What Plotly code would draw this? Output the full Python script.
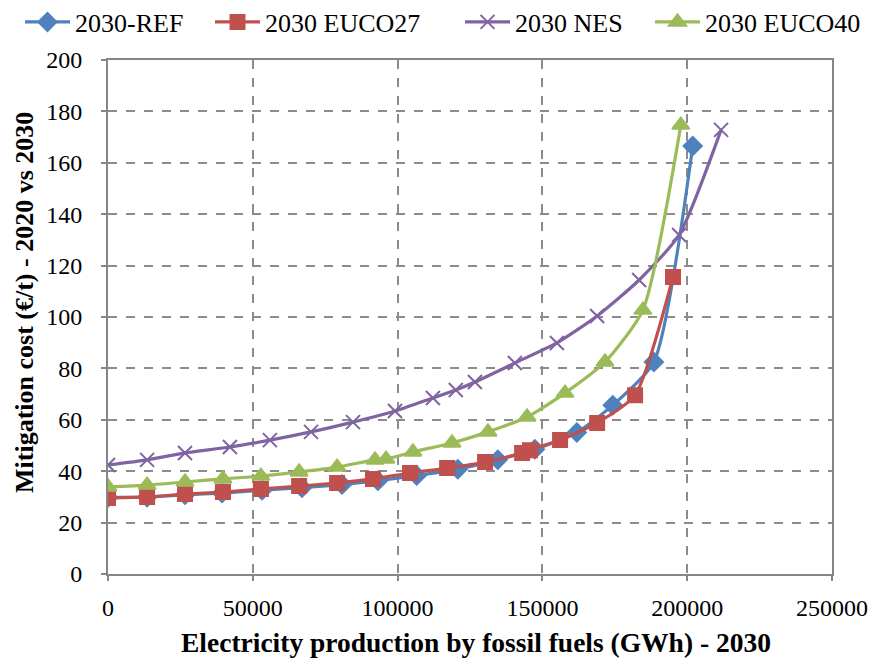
import plotly.graph_objects as go

ref_x = [0, 13500, 26600, 39400, 53200, 67000, 80800, 93200, 106600, 120800, 134600, 147400, 161900, 174300, 188500, 201900]
ref_y = [29.8, 29.9, 30.8, 31.5, 32.6, 33.6, 34.8, 36.3, 38.3, 40.8, 44.5, 48.5, 55.1, 65.7, 82.5, 166.5]

euco27_x = [0, 13500, 26600, 39700, 52800, 66000, 79100, 91500, 104300, 117100, 130200, 143000, 145700, 156100, 168900, 182000, 195100]
euco27_y = [29.6, 30.0, 31.1, 31.9, 33.1, 34.2, 35.4, 37.0, 39.3, 41.2, 43.6, 47.1, 48.2, 52.1, 58.8, 69.6, 115.6]

nes_x = [0, 13500, 26600, 42100, 55900, 70100, 84600, 99100, 112200, 120100, 126700, 140500, 155000, 168900, 183400, 197200, 211700]
nes_y = [42.4, 44.4, 47.1, 49.4, 52.1, 55.3, 59.1, 63.4, 68.5, 71.6, 74.7, 82.1, 89.9, 100.4, 114.4, 131.9, 172.8]

euco40_x = [0, 13500, 26600, 39700, 52800, 66000, 79100, 92200, 96000, 105300, 118800, 131200, 144700, 157800, 171600, 184700, 197800]
euco40_y = [33.9, 34.6, 35.8, 37.0, 38.1, 39.7, 41.6, 44.4, 44.7, 47.5, 51.0, 55.3, 61.1, 70.4, 82.5, 102.7, 174.7]

names = ["2030-REF", "2030 EUCO27", "2030 NES", "2030 EUCO40"]
colors = ["#4F81BD", "#C0504D", "#8064A2", "#9BBB59"]
symbols = ["diamond", "square", "x-thin-open", "triangle-up"]
sizes = [14, 14, 14, 15]
legend_ids = ["legend", "legend2", "legend3", "legend4"]
legend_px = [20, 210, 460, 650]

x_title = "Electricity production by fossil fuels (GWh) - 2030"
y_title = "Mitigation cost (€/t) - 2020 vs 2030"

SERIF = "Liberation Serif, Times New Roman, serif"
W, H = 874, 658
ML, MR, MT, MB = 108, 42, 60, 84
PW, PH = W - ML - MR, H - MT - MB

fig = go.Figure()
for xs, ys, n, c, s, sz, lg in zip([ref_x, euco27_x, nes_x, euco40_x],
                                   [ref_y, euco27_y, nes_y, euco40_y],
                                   names, colors, symbols, sizes, legend_ids):
    fig.add_trace(go.Scatter(
        x=xs, y=ys, name=n, mode="lines+markers", legend=lg,
        line=dict(color=c, width=3.2, shape="spline", smoothing=0.6),
        marker=dict(symbol=s, size=sz, color=c, line=dict(color=c, width=2)),
    ))

tickfont = dict(family=SERIF, size=24, color="black")
grid = dict(
    showline=True, linecolor="#868686", linewidth=2, mirror=True,
    showgrid=True, gridcolor="#8c8c8c", griddash="dash", gridwidth=1.5,
    ticks="outside", ticklen=5, tickcolor="#868686", tickwidth=1.5,
    zeroline=False,
)

layout_legends = {}
for lg, px in zip(legend_ids, legend_px):
    layout_legends[lg] = dict(
        x=px / W, xanchor="left", xref="container",
        y=1 - 22 / H, yanchor="middle", yref="container",
        orientation="h", bgcolor="rgba(0,0,0,0)", itemwidth=45,
        font=dict(family=SERIF, size=26, color="black"),
    )

fig.update_layout(
    width=W, height=H, showlegend=True,
    margin=dict(l=ML, r=MR, t=MT, b=MB, autoexpand=False),
    paper_bgcolor="white", plot_bgcolor="white",
    font=dict(family=SERIF, color="black"),
    xaxis=dict(range=[0, 250000], dtick=50000, tickformat="d",
               tickfont=tickfont, ticklabelstandoff=6, **grid),
    yaxis=dict(range=[0, 200], dtick=20,
               tickfont=tickfont, ticklabelstandoff=14, **grid),
    annotations=[
        dict(text="<b>" + y_title + "</b>", textangle=-90,
             xref="paper", yref="paper",
             x=(24 - ML) / PW, y=(H - MB - 303) / PH,
             xanchor="center", yanchor="middle", showarrow=False,
             font=dict(family=SERIF, size=26, color="black")),
        dict(text="<b>" + x_title + "</b>",
             xref="paper", yref="paper",
             x=(476 - ML) / PW, y=(H - MB - 642) / PH,
             xanchor="center", yanchor="middle", showarrow=False,
             font=dict(family=SERIF, size=27.5, color="black")),
    ],
    **layout_legends,
)

fig.write_html("out.html")
